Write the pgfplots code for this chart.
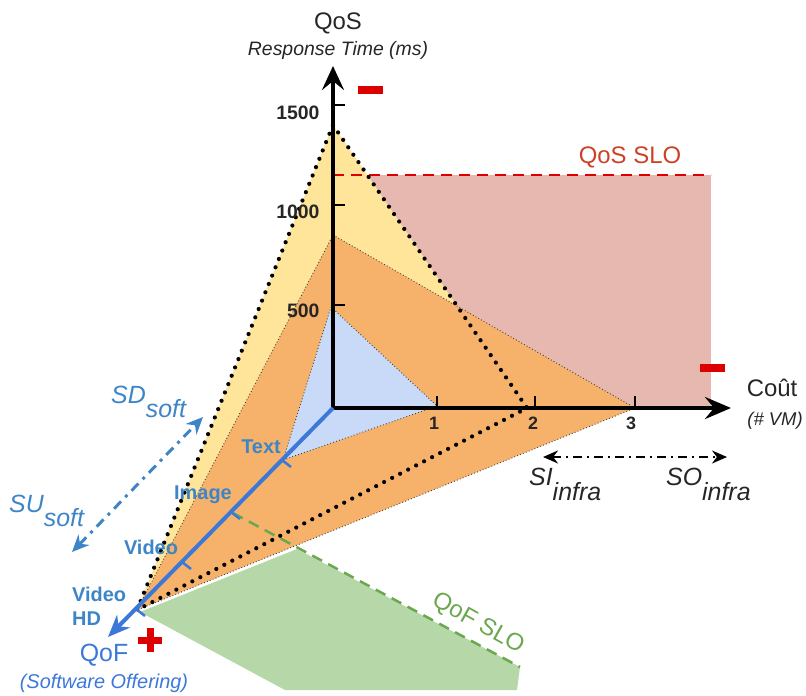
\documentclass[border=0pt]{standalone}
\usepackage{pgfplots}
\pgfplotsset{compat=1.18}
\usepackage{fontspec}
\setmainfont{Liberation Sans}
\usetikzlibrary{arrows.meta}
\definecolor{yel}{HTML}{FFE599}
\definecolor{ora}{HTML}{F6B26B}
\definecolor{lblue}{HTML}{C9DAF8}
\definecolor{pinkr}{HTML}{E6B8AF}
\definecolor{lgreen}{HTML}{B6D7A8}
\definecolor{dgreen}{HTML}{6AA84F}
\definecolor{qfblue}{HTML}{3C78D8}
\definecolor{lbl}{HTML}{3D85C6}
\definecolor{slored}{HTML}{CC4125}
\definecolor{dred}{HTML}{DD0000}
\definecolor{txtg}{HTML}{262626}
\newcommand{\fs}[1]{\fontsize{#1}{#1}\selectfont}
\begin{document}
\begin{tikzpicture}
\begin{axis}[scale only axis, width=806bp, height=695bp,
  xmin=0, xmax=806, ymin=0, ymax=695, y dir=reverse,
  hide axis, clip=false]
\addplot[draw=none] coordinates {(0,0) (806,695)};
% QoS SLO region
\addplot[draw=none, fill=pinkr] coordinates {(333,175) (711,175) (711,408) (333,408)} -- cycle;
% QoF SLO region
\addplot[draw=none, fill=lgreen] coordinates {(140,612) (297,549) (520,667) (517,690) (285,690)} -- cycle;
% yellow triangle
\addplot[draw=none, fill=yel] coordinates {(333,125) (527,408) (137,610)} -- cycle;
% orange triangle
\addplot[fill=ora, draw=black!75, line width=0.9bp, dash pattern=on 0.9bp off 2.2bp] coordinates {(333,235) (635,408) (137,610)} -- cycle;
% blue triangle
\addplot[fill=lblue, draw=black!75, line width=0.9bp, dash pattern=on 0.9bp off 2.2bp] coordinates {(331,307) (437,406) (283,460)} -- cycle;
% QoS SLO dashed line
\addplot[dred, line width=2.5bp, dash pattern=on 11bp off 7bp] coordinates {(333,175) (711,175)};
% thick dotted outline
\addplot[black, line width=4.2bp, line cap=round, dash pattern=on 0bp off 9bp] coordinates {(333,125) (527,408) (137,610)} -- cycle;
% QoF SLO dashed line
\addplot[dgreen, line width=2.5bp, dash pattern=on 11bp off 7bp] coordinates {(233,513) (520,667)};
% black axes
\addplot[black, line width=4bp, -{Stealth[length=24bp, width=22bp, inset=9bp]}] coordinates {(333,410) (333,66)};
\addplot[black, line width=4bp, -{Stealth[length=26bp, width=22bp, inset=9bp]}] coordinates {(331,408) (731,408)};
\addplot[black, line width=2.5bp] coordinates {(333,105) (345,105)};
\addplot[black, line width=2.5bp] coordinates {(333,205) (345,205)};
\addplot[black, line width=2.5bp] coordinates {(333,305) (345,305)};
\addplot[black, line width=2.5bp] coordinates {(437,408) (437,396)};
\addplot[black, line width=2.5bp] coordinates {(535,408) (535,396)};
\addplot[black, line width=2.5bp] coordinates {(635,408) (635,396)};
% QoF axis
\addplot[qfblue, line width=4bp, -{Stealth[length=22bp, width=18bp, inset=7bp]}] coordinates {(333,408) (108,637)};
\addplot[qfblue, line width=2.5bp] coordinates {(282,460) (291,467)};
\addplot[qfblue, line width=2.5bp] coordinates {(231,512) (240,519)};
\addplot[qfblue, line width=2.5bp] coordinates {(182,562) (191,569)};
\addplot[qfblue, line width=2.5bp] coordinates {(136,609) (145,616)};
% SI / SO arrow
\addplot[black, line width=2bp, dash pattern=on 9bp off 5bp on 2bp off 5bp, {Stealth[length=15bp, width=13bp]}-{Stealth[length=15bp, width=13bp]}] coordinates {(543,457) (727,457)};
% SD / SU arrow
\addplot[lbl, line width=3bp, dash pattern=on 10bp off 6bp on 3bp off 6bp, {Stealth[length=17bp, width=15bp]}-{Stealth[length=17bp, width=15bp]}] coordinates {(72,552) (203,417)};
% red signs
\addplot[draw=none, fill=dred] coordinates {(358,86) (383,86) (383,94) (358,94)} -- cycle;
\addplot[draw=none, fill=dred] coordinates {(700,364) (725,364) (725,372) (700,372)} -- cycle;
\addplot[dred, line width=7bp] coordinates {(138,640) (162,640)};
\addplot[dred, line width=7bp] coordinates {(150,628) (150,652)};
% labels
\node[txtg] at (338,23) {\fs{24}QoS};
\node[txtg] at (338,50) {\fs{19.5}\itshape Response Time (ms)};
\node[anchor=east, txtg] at (323,113) {\fs{19.5}\bfseries 1500};
\node[anchor=east, txtg] at (323,212) {\fs{19.5}\bfseries 1000};
\node[anchor=east, txtg] at (323,311) {\fs{19.5}\bfseries 500};
\node[txtg] at (434,423) {\fs{18}\bfseries 1};
\node[txtg] at (533,423) {\fs{18}\bfseries 2};
\node[txtg] at (631,423) {\fs{18}\bfseries 3};
\node[txtg] at (772,388) {\fs{24}Coût};
\node[txtg] at (775,421) {\fs{18.5}\itshape (\# VM)};
\node[slored] at (630,157) {\fs{24}QoS SLO};
\node[dgreen, rotate=-29] at (478,624) {\fs{24}QoF SLO};
\node[anchor=base west, txtg, inner sep=0pt] at (529,485) {\fs{25}\itshape SI\raisebox{-15bp}{infra}};
\node[anchor=base west, txtg, inner sep=0pt] at (666,485) {\fs{25}\itshape SO\raisebox{-15bp}{infra}};
\node[anchor=base west, lbl, inner sep=0pt] at (111,403) {\fs{25}\itshape SD\raisebox{-14bp}{soft}};
\node[anchor=base west, lbl, inner sep=0pt] at (9,512) {\fs{25}\itshape SU\raisebox{-14bp}{soft}};
\node[lbl] at (261,447) {\fs{20}\bfseries Text};
\node[lbl] at (203,495) {\fs{20}\bfseries Image};
\node[lbl] at (151,547) {\fs{20}\bfseries Video};
\node[lbl, anchor=west, inner sep=0pt] at (72,594) {\fs{20}\bfseries Video};
\node[lbl, anchor=west, inner sep=0pt] at (72,619) {\fs{20}\bfseries HD};
\node[qfblue] at (104,655) {\fs{25}QoF};
\node[qfblue] at (104,683) {\fs{20}\itshape (Software Offering)};
\end{axis}
\end{tikzpicture}
\end{document}
